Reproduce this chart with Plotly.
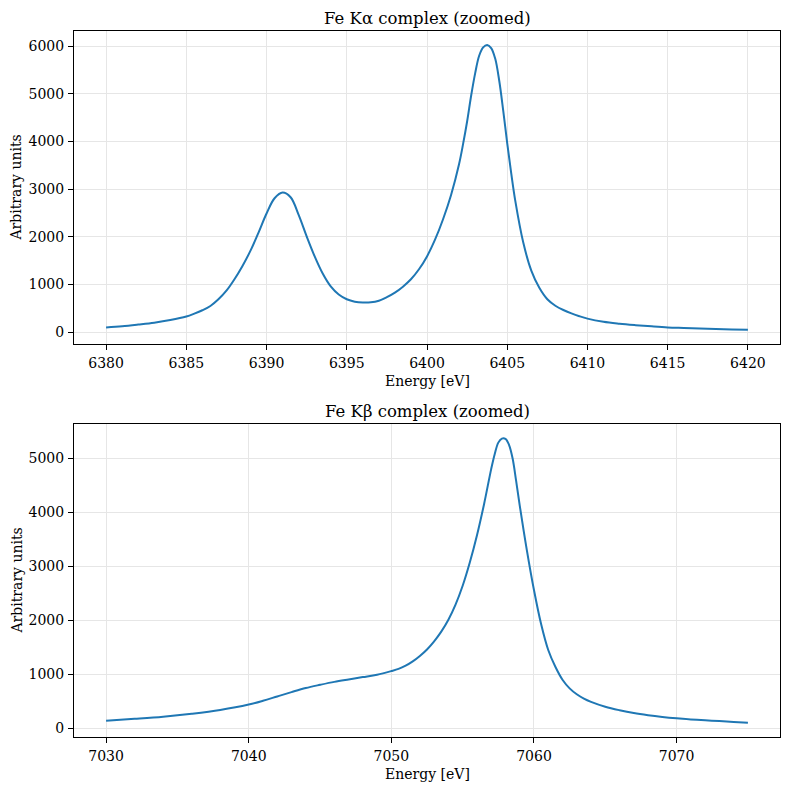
import plotly.graph_objects as go

# ---- Data ----
ka_energy = [6380.0, 6381.0, 6382.0, 6383.0, 6384.0, 6385.0, 6385.5, 6386.0, 6386.5, 6387.0,
             6387.5, 6388.0, 6388.5, 6389.0, 6389.5, 6390.0, 6390.5, 6391.0, 6391.5, 6392.0,
             6392.5, 6393.0, 6393.5, 6394.0, 6394.5, 6395.0, 6395.5, 6396.0, 6396.5, 6397.0,
             6397.5, 6398.0, 6398.5, 6399.0, 6399.5, 6400.0, 6400.5, 6401.0, 6401.5, 6402.0,
             6402.25, 6402.5, 6402.75, 6403.0, 6403.25, 6403.5, 6403.75, 6404.0, 6404.25, 6404.5,
             6404.75, 6405.0, 6405.25, 6405.5, 6406.0, 6406.5, 6407.0,
             6407.5, 6408.0, 6408.5, 6409.0, 6409.5, 6410.0, 6411.0, 6412.0, 6413.0, 6414.0,
             6415.0, 6416.0, 6417.0, 6418.0, 6419.0, 6420.0]
ka_counts = [100, 125, 160, 200, 255, 330, 390, 460, 550, 690,
             870, 1110, 1390, 1710, 2090, 2490, 2810, 2930, 2830, 2460,
             2010, 1590, 1230, 960, 790, 690, 640, 622, 626, 660,
             735, 830, 955, 1110, 1320, 1590, 1940, 2370, 2880, 3530,
             3950, 4420, 4960, 5430, 5800, 5975, 6025, 5960, 5740, 5280,
             4650, 3960, 3330, 2760, 1880, 1290, 930,
             690, 555, 465, 395, 335, 285, 218, 178, 148, 122,
             100, 88, 76, 66, 58, 50]

kb_energy = [7030.0, 7032.0, 7034.0, 7036.0, 7038.0, 7040.0, 7041.0, 7042.0, 7043.0, 7044.0,
             7045.0, 7046.0, 7047.0, 7048.0, 7049.0, 7050.0, 7050.5, 7051.0, 7051.5, 7052.0,
             7052.5, 7053.0, 7053.5, 7054.0, 7054.5, 7055.0, 7055.5, 7056.0, 7056.5, 7057.0,
             7057.25, 7057.5, 7057.75, 7058.0, 7058.25, 7058.5, 7058.75, 7059.0,
             7059.5, 7060.0, 7060.5, 7061.0, 7061.5, 7062.0,
             7062.5, 7063.0, 7063.5, 7064.0, 7065.0, 7066.0, 7067.0, 7068.0, 7069.0, 7070.0,
             7071.0, 7072.0, 7073.0, 7074.0, 7075.0]
kb_counts = [140, 175, 215, 270, 340, 440, 510, 590, 670, 745,
             805, 860, 905, 948, 992, 1060, 1100, 1160, 1240, 1340,
             1460, 1610, 1790, 2010, 2290, 2640, 3070, 3570, 4150, 4800,
             5080, 5290, 5365, 5360, 5250, 5000, 4580, 4130,
             3300, 2560, 1930, 1450, 1140, 900,
             740, 630, 550, 490, 400, 335, 282, 242, 210, 185,
             165, 148, 133, 118, 104]

titles = ["Fe Kα complex (zoomed)", "Fe Kβ complex (zoomed)"]
x_label = "Energy [eV]"
y_label = "Arbitrary units"

W = H = 790
FONT = "DejaVu Serif"
LINE_COLOR = "#1f77b4"
GRID = "#e6e6e6"

# axes boxes in pixels (left, right, top, bottom)
boxes = [(74, 780, 31, 344), (74, 780, 424, 737)]

def dom_x(b):
    return [b[0] / W, b[1] / W]

def dom_y(b):
    return [1 - b[3] / H, 1 - b[2] / H]

fig = go.Figure()
fig.add_trace(go.Scatter(x=ka_energy, y=ka_counts, mode="lines",
                         line=dict(color=LINE_COLOR, width=2, shape="spline", smoothing=1.0),
                         xaxis="x", yaxis="y", showlegend=False))
fig.add_trace(go.Scatter(x=kb_energy, y=kb_counts, mode="lines",
                         line=dict(color=LINE_COLOR, width=2, shape="spline", smoothing=1.0),
                         xaxis="x2", yaxis="y2", showlegend=False))

def axis_common():
    return dict(showline=True, linecolor="black", linewidth=1, mirror=True,
                ticks="outside", ticklen=5, tickwidth=1, tickcolor="black",
                showgrid=True, gridcolor=GRID, gridwidth=1, zeroline=False,
                tickfont=dict(family=FONT, size=14, color="black"),
                ticklabelstandoff=1)

fig.update_layout(
    width=W, height=H, margin=dict(l=0, r=0, t=0, b=0),
    paper_bgcolor="white", plot_bgcolor="white",
    font=dict(family=FONT, size=14, color="black"),
    xaxis=dict(domain=dom_x(boxes[0]), anchor="y", range=[6378, 6422], dtick=5, tick0=6380,
               **axis_common()),
    yaxis=dict(domain=dom_y(boxes[0]), anchor="x", range=[-248, 6319], dtick=1000, tick0=0,
               tickformat="d", **axis_common()),
    xaxis2=dict(domain=dom_x(boxes[1]), anchor="y2", range=[7027.75, 7077.25], dtick=10, tick0=7030,
                **axis_common()),
    yaxis2=dict(domain=dom_y(boxes[1]), anchor="x2", range=[-161, 5635], dtick=1000, tick0=0,
                tickformat="d", **axis_common()),
)

ann = []
for i, b in enumerate(boxes):
    cx = (b[0] + b[1]) / 2
    ann.append(dict(text=titles[i], x=cx / W, y=1 - (b[2] - 13) / H, xref="paper", yref="paper",
                    xanchor="center", yanchor="middle", showarrow=False,
                    font=dict(family=FONT, size=16.5, color="black")))
    ann.append(dict(text=x_label, x=cx / W, y=1 - (b[3] + 37) / H, xref="paper", yref="paper",
                    xanchor="center", yanchor="middle", showarrow=False,
                    font=dict(family=FONT, size=14, color="black")))
    ann.append(dict(text=y_label, x=16 / W, y=1 - ((b[2] + b[3]) / 2) / H, xref="paper", yref="paper",
                    xanchor="center", yanchor="middle", showarrow=False, textangle=-90,
                    font=dict(family=FONT, size=14, color="black")))
fig.update_layout(annotations=ann)

fig.write_html("out.html")
